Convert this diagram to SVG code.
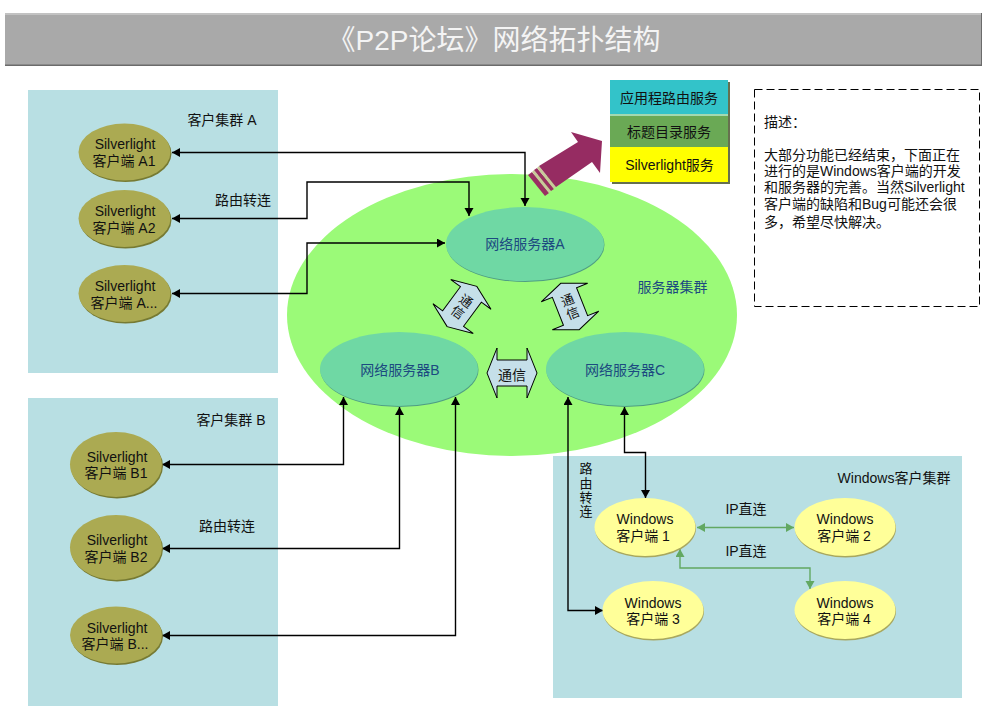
<svg xmlns="http://www.w3.org/2000/svg" width="991" height="719" viewBox="0 0 991 719">
<style>
text{font-family:"Liberation Sans","Noto Sans CJK SC",sans-serif;font-size:14px;fill:#111;text-anchor:middle}
.l{text-anchor:start}
.blue{fill:#1c4a80}
.cluster{fill:#b8dfe3}
.sh{fill:#767a33}.sl{fill:#abaa52}
.vh{fill:#4f9e84}.sv{fill:#6fd8a4}
.wh{fill:#a8a75f}.wn{fill:#ffff99}
.k{fill:none;stroke:#000;stroke-width:1.4;marker-start:url(#a);marker-end:url(#a)}
.g{fill:none;stroke:#62a862;stroke-width:1.4;marker-start:url(#b);marker-end:url(#b)}
.ar{fill:#c5dfe9;stroke:#000;stroke-width:1}
.c{font-size:13px}
</style>
<defs>
<marker id="a" markerUnits="userSpaceOnUse" markerWidth="10" markerHeight="10" refX="8" refY="4.5" orient="auto-start-reverse"><path d="M0,0L8,4.5L0,9Z" fill="#000"/></marker>
<marker id="b" markerUnits="userSpaceOnUse" markerWidth="10" markerHeight="10" refX="8" refY="4.5" orient="auto-start-reverse"><path d="M0,0L8,4.5L0,9Z" fill="#62a862"/></marker>
<polygon id="dbl" class="ar" points="-25,0 -15,-25 -15,-13 15,-13 15,-25 25,0 15,25 15,13 -15,13 -15,25"/>
</defs>
<rect width="991" height="719" fill="#fff"/>
<g id="title">
<rect x="5" y="13" width="977" height="53" fill="#6b6b6b"/>
<rect x="5" y="13" width="976" height="51.500" fill="#a9a9a9"/>
<rect x="5" y="13" width="976" height="2" fill="#c2c2c2"/>
<text x="494" y="50" style="font-size:28px;fill:#f4f4f4">《P2P论坛》网络拓扑结构</text>
</g>
<g id="cluster-a"><rect class="cluster" x="28" y="90" width="250" height="283"/><text x="222" y="125">客户集群 A</text></g>
<g id="cluster-b"><rect class="cluster" x="28" y="398" width="250" height="308"/><text x="231" y="425">客户集群 B</text></g>
<g id="cluster-w"><rect class="cluster" x="553" y="456" width="409" height="242"/><text x="894" y="483">Windows客户集群</text></g>
<g id="cluster-s"><ellipse cx="512" cy="315" rx="225" ry="141" fill="#9bfa78"/><text class="blue" x="672.500" y="292">服务器集群</text></g>

<g id="connectors">
<path class="k" d="M172,152.500H525V206"/>
<path class="k" d="M172,218.500H307V182H469V216"/>
<path class="k" d="M172,293.500H307V243H445"/>
<path class="k" d="M162,464.500H343.500V397"/>
<path class="k" d="M162,548.500H399.500V407"/>
<path class="k" d="M162,635.500H455.500V397"/>
<path class="k" d="M624.500,407V452.500H645.500V498"/>
<path class="k" d="M568,397V610.500H603"/>
<path class="g" d="M697,527.500H794"/>
<path class="g" d="M680,549V568H810V589"/>
</g>

<g id="server-a"><ellipse class="vh" cx="525.500" cy="245" rx="79" ry="37"/><ellipse class="sv" cx="525" cy="244" rx="79" ry="37"/><text class="blue" x="525" y="249">网络服务器A</text></g>
<g id="server-b"><ellipse class="vh" cx="399.500" cy="370" rx="79" ry="37"/><ellipse class="sv" cx="399" cy="369" rx="79" ry="37"/><text class="blue" x="400" y="375">网络服务器B</text></g>
<g id="server-c"><ellipse class="vh" cx="625.500" cy="370" rx="79" ry="37"/><ellipse class="sv" cx="625" cy="369" rx="79" ry="37"/><text class="blue" x="625" y="375">网络服务器C</text></g>

<g id="comm-1"><use href="#dbl" transform="translate(462,306.500) rotate(-53.600)"/><g transform="translate(462,306.500) rotate(36.400)"><text class="c" y="-2">通</text><text class="c" y="12">信</text></g></g>
<g id="comm-2"><use href="#dbl" transform="translate(570,306.500) rotate(-111.700)"/><g transform="translate(570,306.500) rotate(-21.700)"><text class="c" y="-2">通</text><text class="c" y="12">信</text></g></g>
<g id="comm-3"><use href="#dbl" transform="translate(512,373)"/><text x="512" y="380">通信</text></g>

<g id="client-a1"><ellipse class="sh" cx="125.500" cy="153.500" rx="46" ry="28.500"/><ellipse class="sl" cx="124.500" cy="152" rx="46" ry="28.500"/><text x="125" y="149">Silverlight</text><text x="124" y="166">客户端 A1</text></g>
<g id="client-a2"><ellipse class="sh" cx="125.500" cy="220" rx="46" ry="28.500"/><ellipse class="sl" cx="124.500" cy="218.500" rx="46" ry="28.500"/><text x="125" y="216">Silverlight</text><text x="124" y="233">客户端 A2</text></g>
<g id="client-a3"><ellipse class="sh" cx="125.500" cy="295" rx="46" ry="28.500"/><ellipse class="sl" cx="124.500" cy="293.500" rx="46" ry="28.500"/><text x="125" y="291">Silverlight</text><text x="124" y="308">客户端 A...</text></g>
<text x="243" y="205">路由转连</text>

<g id="client-b1"><ellipse class="sh" cx="117" cy="466" rx="46" ry="32.500"/><ellipse class="sl" cx="116" cy="464.500" rx="46" ry="32.500"/><text x="117" y="462">Silverlight</text><text x="116" y="478">客户端 B1</text></g>
<g id="client-b2"><ellipse class="sh" cx="117" cy="549" rx="46" ry="32.500"/><ellipse class="sl" cx="116" cy="547.500" rx="46" ry="32.500"/><text x="117" y="545">Silverlight</text><text x="116" y="562">客户端 B2</text></g>
<g id="client-b3"><ellipse class="sh" cx="117" cy="636.500" rx="46" ry="28.500"/><ellipse class="sl" cx="116" cy="635" rx="46" ry="28.500"/><text x="117" y="633">Silverlight</text><text x="115" y="649">客户端 B...</text></g>
<text x="227" y="531">路由转连</text>
<text class="c" x="586"><tspan x="586" y="473">路</tspan><tspan x="586" y="488">由</tspan><tspan x="586" y="502">转</tspan><tspan x="586" y="516">连</tspan></text>

<g id="win-1"><ellipse class="wh" cx="645.500" cy="528.500" rx="50.500" ry="29"/><ellipse class="wn" cx="645" cy="527" rx="50.500" ry="29"/><text x="645" y="524">Windows</text><text x="643" y="541">客户端 1</text></g>
<g id="win-2"><ellipse class="wh" cx="845.500" cy="528.500" rx="50.500" ry="29"/><ellipse class="wn" cx="845" cy="527" rx="50.500" ry="29"/><text x="845" y="524">Windows</text><text x="844" y="541">客户端 2</text></g>
<g id="win-3"><ellipse class="wh" cx="653.500" cy="611.500" rx="50.500" ry="29"/><ellipse class="wn" cx="653" cy="610" rx="50.500" ry="29"/><text x="653" y="608">Windows</text><text x="653" y="624">客户端 3</text></g>
<g id="win-4"><ellipse class="wh" cx="845.500" cy="611.500" rx="50.500" ry="29"/><ellipse class="wn" cx="845" cy="610" rx="50.500" ry="29"/><text x="845" y="608">Windows</text><text x="844" y="624">客户端 4</text></g>
<text x="746" y="514">IP直连</text>
<text x="746" y="556">IP直连</text>

<g id="big-arrow">
<polygon points="528,175 532,172 549,193 545,196" fill="#9a2f62"/>
<polygon points="532,172 534,170 551,191 549,193" fill="#c9c99a"/>
<polygon points="534,170 537,168 554,189 551,191" fill="#9a2f62"/>
<polygon points="537,168 539,166 556,187 554,189" fill="#c9c99a"/>
<polygon points="539,166 578,142 571,132 602,141 600,173 592,162 556,187" fill="#962c62"/>
</g>

<g id="services">
<rect x="612" y="82" width="118" height="102" fill="#66704f"/>
<rect x="610" y="80" width="118" height="34" fill="#33c3c9"/>
<rect x="610" y="114" width="118" height="2" fill="#a3d9b0"/>
<rect x="610" y="116" width="118" height="31" fill="#6aa955"/>
<rect x="610" y="147" width="118" height="35" fill="#ffff00"/>
<text x="669" y="103">应用程路由服务</text>
<text x="669" y="137">标题目录服务</text>
<text x="669.500" y="170">Silverlight服务</text>
</g>

<g id="description">
<rect x="754.500" y="89.500" width="225" height="217" fill="#fff" stroke="#000" stroke-dasharray="8 4"/>
<text class="l" x="764" y="127">描述：</text>
<text class="l" x="764" y="160">大部分功能已经结束，下面正在</text>
<text class="l" x="764" y="176">进行的是Windows客户端的开发</text>
<text class="l" x="764" y="192">和服务器的完善。当然Silverlight</text>
<text class="l" x="764" y="209">客户端的缺陷和Bug可能还会很</text>
<text class="l" x="764" y="227">多，希望尽快解决。</text>
</g>
</svg>
